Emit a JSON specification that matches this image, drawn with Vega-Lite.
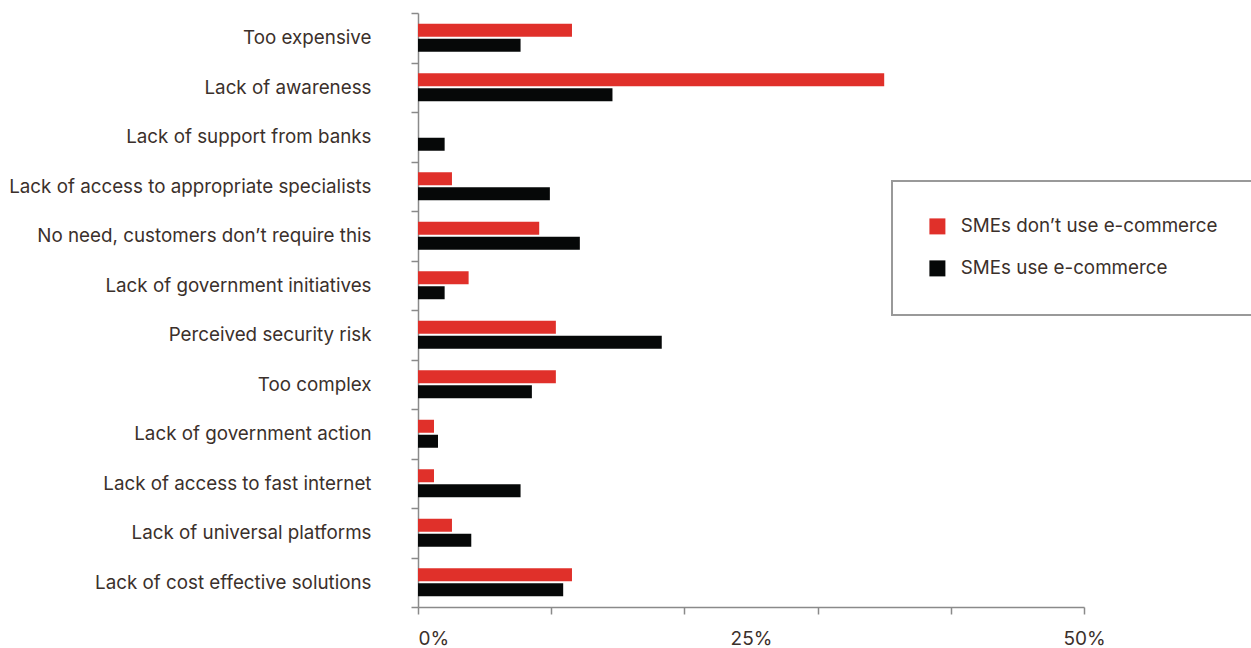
{
  "$schema": "https://vega.github.io/schema/vega-lite/v6.json",
  "width": 666,
  "height": 594,
  "autosize": {"type": "none"},
  "padding": {"left": 418, "top": 13, "right": 167, "bottom": 41},
  "background": "white",
  "config": {
    "view": {"stroke": null},
    "font": "Inter",
    "axis": {"labelFont": "Inter", "labelColor": "#3b302b", "domainColor": "#8a8a8a", "tickColor": "#8a8a8a", "domainWidth": 1.5, "tickWidth": 1.5}
  },
  "data": {
    "values": [
      {"reason": "Too expensive", "series": "SMEs don\u2019t use e-commerce", "value": 11.56},
      {"reason": "Too expensive", "series": "SMEs use e-commerce", "value": 7.7},
      {"reason": "Lack of awareness", "series": "SMEs don\u2019t use e-commerce", "value": 35.0},
      {"reason": "Lack of awareness", "series": "SMEs use e-commerce", "value": 14.6},
      {"reason": "Lack of support from banks", "series": "SMEs don\u2019t use e-commerce", "value": 0},
      {"reason": "Lack of support from banks", "series": "SMEs use e-commerce", "value": 2.0},
      {"reason": "Lack of access to appropriate specialists", "series": "SMEs don\u2019t use e-commerce", "value": 2.55},
      {"reason": "Lack of access to appropriate specialists", "series": "SMEs use e-commerce", "value": 9.9},
      {"reason": "No need, customers don\u2019t require this", "series": "SMEs don\u2019t use e-commerce", "value": 9.1},
      {"reason": "No need, customers don\u2019t require this", "series": "SMEs use e-commerce", "value": 12.15},
      {"reason": "Lack of government initiatives", "series": "SMEs don\u2019t use e-commerce", "value": 3.8},
      {"reason": "Lack of government initiatives", "series": "SMEs use e-commerce", "value": 2.0},
      {"reason": "Perceived security risk", "series": "SMEs don\u2019t use e-commerce", "value": 10.35},
      {"reason": "Perceived security risk", "series": "SMEs use e-commerce", "value": 18.3},
      {"reason": "Too complex", "series": "SMEs don\u2019t use e-commerce", "value": 10.35},
      {"reason": "Too complex", "series": "SMEs use e-commerce", "value": 8.55},
      {"reason": "Lack of government action", "series": "SMEs don\u2019t use e-commerce", "value": 1.2},
      {"reason": "Lack of government action", "series": "SMEs use e-commerce", "value": 1.5},
      {"reason": "Lack of access to fast internet", "series": "SMEs don\u2019t use e-commerce", "value": 1.2},
      {"reason": "Lack of access to fast internet", "series": "SMEs use e-commerce", "value": 7.7},
      {"reason": "Lack of universal platforms", "series": "SMEs don\u2019t use e-commerce", "value": 2.55},
      {"reason": "Lack of universal platforms", "series": "SMEs use e-commerce", "value": 4.0},
      {"reason": "Lack of cost effective solutions", "series": "SMEs don\u2019t use e-commerce", "value": 11.56},
      {"reason": "Lack of cost effective solutions", "series": "SMEs use e-commerce", "value": 10.9}
    ]
  },
  "mark": {"type": "bar"},
  "encoding": {
    "y": {
      "field": "reason",
      "type": "nominal",
      "sort": null,
      "scale": {"paddingInner": 0, "paddingOuter": 0},
      "axis": {
        "title": null,
        "tickBand": "extent",
        "tickSize": 7,
        "labelFontSize": 18.8,
        "labelPadding": 40,
        "labelLimit": 420
      }
    },
    "yOffset": {
      "field": "series",
      "type": "nominal",
      "sort": ["SMEs don\u2019t use e-commerce", "SMEs use e-commerce"],
      "scale": {"paddingInner": 0.133, "paddingOuter": 0.717}
    },
    "x": {
      "field": "value",
      "type": "quantitative",
      "scale": {"domain": [0, 50], "nice": false},
      "axis": {
        "title": null,
        "values": [0, 10, 20, 25, 30, 40, 50],
        "labelExpr": "datum.value == 0 || datum.value == 25 || datum.value == 50 ? datum.value + '%' : ''",
        "tickSize": 7,
        "tickOpacity": {"condition": {"test": "datum.value == 25", "value": 0}, "value": 1},
        "labelAlign": {"condition": {"test": "datum.value == 0", "value": "left"}, "value": "center"},
        "labelFontSize": 19,
        "labelPadding": 15,
        "grid": false
      }
    },
    "color": {
      "field": "series",
      "type": "nominal",
      "sort": ["SMEs don\u2019t use e-commerce", "SMEs use e-commerce"],
      "scale": {"domain": ["SMEs don\u2019t use e-commerce", "SMEs use e-commerce"], "range": ["#e0302a", "#060808"]},
      "legend": {
        "title": null,
        "orient": "none",
        "legendX": 474,
        "legendY": 168,
        "direction": "vertical",
        "symbolType": "square",
        "symbolSize": 256,
        "symbolStrokeWidth": 0,
        "labelFontSize": 18.8,
        "labelColor": "#3b302b",
        "labelFont": "Inter",
        "labelOffset": 14,
        "rowPadding": 22,
        "padding": 36,
        "strokeColor": "#999999",
        "fillColor": "white",
        "labelLimit": 400,
        "encode": {
          "symbols": {"update": {"fill": {"signal": "datum.value == 'SMEs use e-commerce' ? '#35251b' : '#e64a3b'"}, "strokeWidth": {"value": 0}}},
          "legend": {"update": {"strokeWidth": {"value": 2}}}
        }
      }
    }
  }
}
